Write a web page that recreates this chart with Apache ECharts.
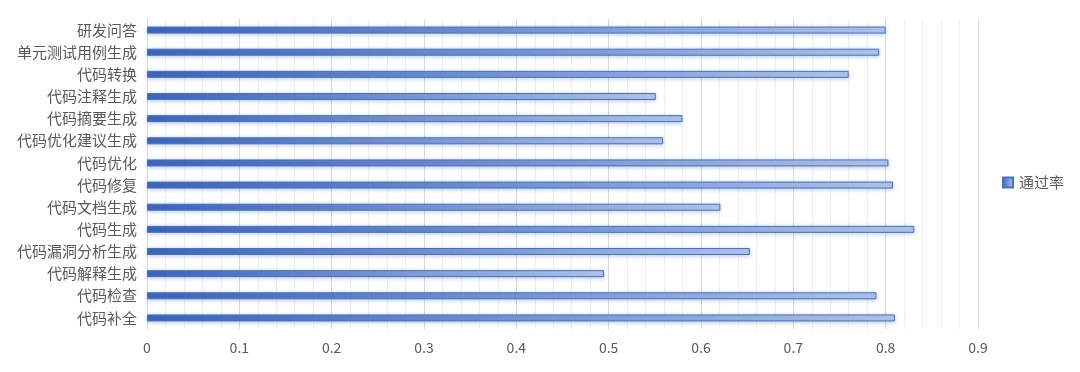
<!DOCTYPE html>
<html><head><meta charset="utf-8">
<script src="https://cdn.jsdelivr.net/npm/echarts@6/dist/echarts.min.js"></script>
<style>html,body{margin:0;padding:0;background:#fff}#c{width:1080px;height:372px}</style>
</head><body><div id="c"></div>
<script>
const categories = ['代码补全','代码检查','代码解释生成','代码漏洞分析生成','代码生成','代码文档生成','代码修复','代码优化','代码优化建议生成','代码摘要生成','代码注释生成','代码转换','单元测试用例生成','研发问答'];
const passRate = [0.810, 0.790, 0.495, 0.653, 0.831, 0.621, 0.808, 0.803, 0.559, 0.580, 0.551, 0.760, 0.793, 0.800];
const seriesName = '通过率';
const xTicks = [0, 0.1, 0.2, 0.3, 0.4, 0.5, 0.6, 0.7, 0.8, 0.9];

const font = '"Noto Sans CJK SC", sans-serif';
const chart = echarts.init(document.getElementById('c'), null, {renderer:'canvas'});
chart.setOption({
  animation: false,
  backgroundColor: '#fff',
  grid: {left: 147, right: 102, top: 19, bottom: 43, containLabel: false},
  legend: {
    orient: 'vertical', left: 1002, top: 175, padding: 0,
    itemWidth: 10, itemHeight: 10, itemGap: 6,
    icon: 'rect',
    textStyle: {color: '#595959', fontSize: 15, fontFamily: font, padding: [0,0,0,1]},
    data: [seriesName]
  },
  xAxis: {
    type: 'value', min: xTicks[0], max: xTicks[xTicks.length-1], interval: 0.1,
    axisLine: {show: false}, axisTick: {show: false},
    axisLabel: {color: '#595959', fontSize: 14, fontFamily: font, margin: 12,
      formatter: v => String(Math.round(v*10)/10)},
    splitLine: {show: true, lineStyle: {color: '#d9d9d9', width: 1}},
    minorTick: {show: false, splitNumber: 5},
    minorSplitLine: {show: true, lineStyle: {color: '#efefef', width: 1}}
  },
  yAxis: {
    type: 'category', data: categories,
    axisLine: {show: true, lineStyle: {color: '#d9d9d9'}},
    axisTick: {show: false},
    axisLabel: {color: '#595959', fontSize: 15, fontFamily: font, margin: 10}
  },
  series: [{
    name: seriesName, type: 'bar', data: passRate, barWidth: 7,
    itemStyle: {
      color: new echarts.graphic.LinearGradient(0, 0, 1, 0, [
        {offset: 0, color: '#3a63bf'},
        {offset: 1, color: '#b3c6ea'}
      ]),
      borderColor: '#4472c4', borderWidth: 1,
      shadowColor: 'rgba(68,114,196,0.35)', shadowBlur: 4, shadowOffsetY: 1
    }
  }]
});
</script></body></html>
